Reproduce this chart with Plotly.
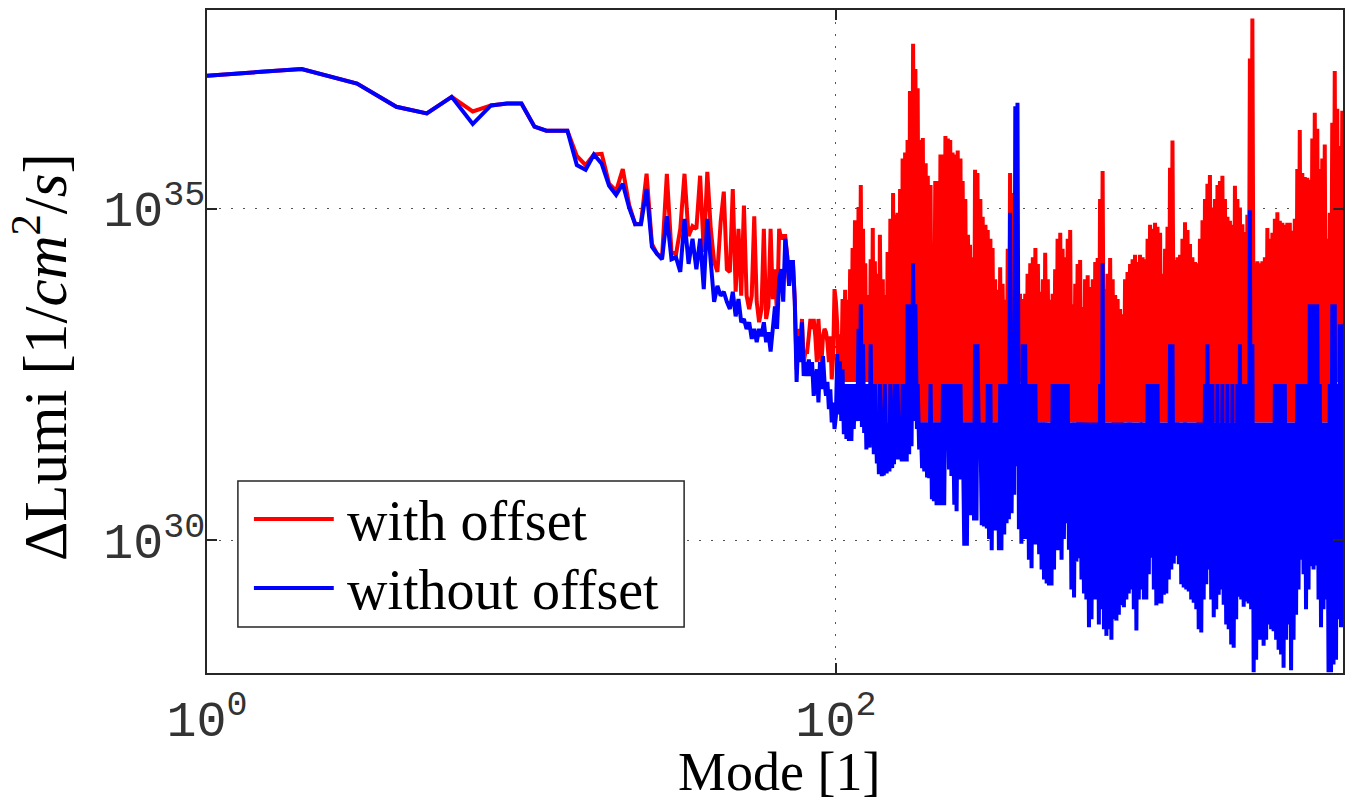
import plotly.graph_objects as go

# ---------------- data (values stored as log10 of ΔLumi [1/cm^2/s]) ----------------
modes_low = list(range(1, 101))

red_low_exp = [
    37.01, 37.11, 36.89, 36.54, 36.44, 36.69, 36.47, 36.56, 36.59, 36.59,
    36.24, 36.18, 36.18, 36.18, 35.80, 35.66, 35.82, 35.83, 35.38, 35.27,
    35.60, 35.06, 34.77, 34.79, 35.53, 34.47, 34.32, 34.27, 35.53, 34.35,
    34.31, 34.70, 35.53, 34.59, 34.74, 34.70, 35.50, 34.35, 35.56, 34.70,
    34.20, 34.05, 34.80, 35.26, 34.09, 34.05, 35.30, 33.75, 34.70, 33.69,
    35.05, 33.69, 33.49, 33.69, 34.89, 33.60, 33.29, 33.49, 34.70, 33.34,
    33.53, 34.70, 33.64, 34.09, 33.38, 34.70, 34.55, 34.59, 34.59, 34.29,
    33.84, 34.20, 34.20, 33.64, 32.58, 33.19, 32.89, 33.34, 32.69, 32.84,
    32.84, 33.08, 33.34, 33.19, 33.34, 33.08, 32.69, 33.34, 32.89, 32.69,
    33.08, 33.19, 33.14, 32.99, 32.69, 33.08, 32.43, 32.78, 33.79, 33.60,
]

blue_low_exp = [
    37.01, 37.11, 36.89, 36.54, 36.44, 36.69, 36.28, 36.56, 36.59, 36.59,
    36.24, 36.18, 36.18, 36.18, 35.66, 35.59, 35.82, 35.68, 35.35, 35.21,
    35.38, 35.02, 34.77, 34.77, 35.30, 34.43, 34.32, 34.24, 34.89, 34.24,
    34.27, 34.05, 34.85, 34.17, 34.55, 34.09, 34.55, 33.79, 34.85, 34.20,
    33.60, 33.84, 33.69, 33.75, 33.60, 33.49, 33.75, 33.38, 33.64, 33.29,
    33.34, 33.19, 33.29, 33.04, 33.19, 32.99, 33.19, 33.08, 33.29, 32.99,
    33.14, 32.85, 33.19, 33.53, 33.19, 33.94, 34.09, 33.60, 34.55, 34.29,
    33.84, 34.20, 34.20, 33.60, 32.39, 33.08, 32.69, 33.29, 32.48, 32.69,
    32.48, 32.73, 32.48, 32.69, 32.18, 32.39, 32.58, 32.08, 32.69, 32.28,
    32.78, 32.39, 32.18, 32.39, 31.98, 32.28, 31.78, 32.08, 31.68, 31.87,
]

modes_dense = [
    101, 102, 103,
    104, 105, 106, 107, 108, 109, 110, 111, 112, 113, 114, 115, 117, 118, 119, 120,
    121, 122, 123, 124, 125, 126, 128, 129, 130, 131, 132, 133, 135, 136, 137, 138, 140, 141, 142, 143,
    145, 146, 148, 149, 151, 152, 153, 154, 156, 157, 159, 160, 162, 163, 165, 166, 168, 169, 171, 172,
    174, 176, 178, 179, 181, 182, 184, 186, 188, 189, 191, 193, 195, 196, 198, 200, 202, 203, 205, 207,
    209, 211, 213, 215, 217, 219, 221, 223, 225, 227, 229, 231, 233, 235, 238, 240, 242, 244, 247, 249,
    251, 253, 256, 258, 261, 263, 265, 267, 270, 272, 275, 277, 280, 282, 285, 288, 291, 293, 296, 299,
    302, 304, 307, 310, 313, 315, 318, 321, 324, 327, 330, 333, 336, 339, 343, 346, 349, 352, 355, 358,
    362, 365, 369, 372, 375, 378, 382, 385, 389, 393, 397, 400, 404, 407, 411, 415, 419, 423, 427, 431,
    435, 439, 443, 447, 451, 455, 459, 463, 468, 472, 476, 480, 485, 489, 494, 498, 503, 507, 512, 517,
    522, 526, 531, 536, 541, 546, 551, 556, 561, 566, 572, 577, 582, 587, 593, 598, 604, 609, 615, 620,
    626, 632, 638, 644, 650, 656, 662, 668, 674, 680, 686, 692, 699, 705, 712, 718, 725, 731, 738, 745,
    752, 759, 766, 773, 780, 787, 794, 801, 809, 816, 824, 831, 839, 846, 854, 862, 870, 878, 886, 894,
    903, 911, 919, 927, 936, 945, 954, 962, 971, 980, 989, 998, 1007, 1016, 1026, 1035, 1045, 1054, 1064, 1074,
    1084, 1094, 1104, 1114, 1124, 1134, 1145, 1155, 1166, 1176, 1187, 1198, 1209, 1220, 1232, 1243, 1254, 1265, 1277, 1289,
    1301, 1313, 1325, 1337, 1349, 1361, 1374, 1387, 1400, 1412, 1425, 1438, 1452, 1465, 1478, 1492, 1506, 1519, 1533, 1547,
    1562, 1576, 1591, 1605, 1620, 1635, 1650, 1665, 1680, 1695, 1711, 1727, 1743, 1759, 1775, 1791, 1808, 1824, 1841, 1858,
    1875, 1892, 1910, 1927, 1945, 1963, 1981, 1999, 2017, 2035, 2054, 2073, 2092, 2111, 2131, 2150, 2170, 2190, 2210, 2230,
    2251, 2271, 2292, 2313, 2335, 2356, 2378, 2400, 2422, 2444, 2466, 2489, 2512, 2535, 2558, 2581, 2605, 2629, 2653, 2677,
    2702, 2727, 2752, 2777, 2803, 2828, 2854, 2880, 2907, 2933, 2960, 2987, 3015, 3043, 3071, 3099, 3127, 3156, 3185, 3214,
    3244, 3274, 3304, 3334, 3365, 3396, 3427, 3458, 3490, 3522, 3554, 3587, 3620, 3653, 3687, 3721, 3755, 3789, 3824, 3859,
    3895, 3931, 3967, 4003, 4040, 4077,
]

red_dense_exp = [
    33.25, 32.39, 33.11,
    32.39, 33.64, 32.39, 33.78, 32.39, 33.63, 32.39, 34.09, 32.39, 34.41, 32.39, 34.83, 32.39, 35.03, 32.39, 35.36,
    32.39, 34.70, 32.39, 34.18, 32.39, 33.70, 32.39, 34.24, 32.39, 34.71, 31.78, 34.21, 31.78, 34.02, 31.78, 34.61, 31.78, 33.94, 31.78, 33.70,
    31.78, 34.35, 31.78, 34.85, 31.78, 35.24, 31.78, 34.91, 31.78, 34.94, 31.78, 35.30, 31.78, 35.76, 31.78, 35.85, 31.78, 36.04, 32.39, 36.78,
    32.39, 37.49, 32.39, 37.11, 32.39, 36.82, 31.78, 36.04, 31.78, 36.07, 31.78, 35.69, 31.78, 35.50, 31.78, 35.36, 31.78, 34.43, 31.78, 35.42,
    31.78, 35.42, 31.78, 35.82, 31.78, 35.82, 31.78, 36.10, 31.78, 36.06, 31.78, 36.04, 31.78, 35.85, 31.78, 35.82, 31.78, 35.88, 31.78, 35.76,
    31.78, 35.42, 31.78, 35.15, 31.78, 34.61, 31.78, 34.46, 31.78, 34.27, 31.78, 35.59, 31.78, 35.54, 31.78, 35.15, 31.78, 34.88, 31.78, 34.76,
    31.78, 34.68, 31.78, 34.55, 31.78, 34.41, 31.78, 33.94, 31.78, 33.78, 31.78, 34.12, 31.78, 33.87, 31.78, 33.63, 31.78, 34.40, 31.78, 35.54,
    32.39, 35.24, 32.39, 34.70, 32.39, 33.94, 32.39, 33.72, 32.39, 33.64, 32.39, 33.72, 32.39, 34.02, 31.78, 34.18, 31.78, 34.27, 31.78, 34.41,
    31.78, 34.17, 31.78, 33.75, 31.78, 33.94, 31.78, 34.34, 31.78, 33.94, 31.78, 33.63, 31.78, 33.72, 31.78, 34.09, 31.78, 34.55, 31.78, 34.64,
    31.78, 34.40, 31.78, 34.27, 31.78, 34.55, 31.78, 34.68, 31.78, 33.56, 31.78, 33.87, 31.78, 34.17, 31.16, 34.23, 31.16, 33.52, 31.16, 33.94,
    31.16, 34.00, 31.16, 33.82, 31.16, 33.94, 31.16, 34.20, 31.16, 34.26, 31.16, 35.15, 31.16, 35.57, 31.78, 33.79, 31.78, 34.02, 31.78, 34.26,
    31.78, 33.94, 31.16, 33.70, 31.16, 33.64, 31.16, 33.49, 31.16, 33.41, 31.78, 33.94, 31.78, 34.05, 31.78, 34.17, 31.78, 34.24, 31.78, 34.31,
    31.78, 34.20, 31.78, 34.31, 31.78, 34.27, 31.78, 34.24, 31.78, 34.55, 31.78, 34.76, 31.78, 34.70, 31.78, 34.79, 31.78, 34.73, 31.78, 34.64,
    31.78, 34.02, 31.78, 34.40, 31.78, 34.73, 31.78, 35.62, 32.39, 36.03, 32.39, 34.23, 31.78, 34.27, 31.78, 34.31, 31.78, 34.55, 31.78, 34.80,
    31.78, 34.68, 31.78, 34.47, 31.78, 34.27, 31.78, 34.20, 31.78, 34.18, 31.16, 34.55, 31.16, 34.83, 31.78, 35.15, 31.78, 35.38, 31.78, 35.51,
    31.78, 35.02, 31.78, 35.15, 31.78, 35.36, 31.78, 35.42, 31.78, 35.50, 31.78, 35.15, 31.78, 34.88, 31.78, 34.82, 31.78, 34.76, 31.78, 35.35,
    31.78, 35.15, 31.78, 35.02, 31.78, 34.77, 31.78, 34.65, 31.78, 34.91, 31.78, 37.27, 32.39, 37.87, 32.39, 34.18, 31.78, 34.21, 31.78, 34.18,
    31.78, 34.21, 31.78, 34.27, 31.78, 34.71, 31.78, 34.55, 31.78, 34.64, 31.78, 34.85, 31.78, 34.95, 31.78, 34.82, 31.78, 34.79, 31.78, 34.76,
    31.78, 34.79, 31.78, 34.79, 31.78, 34.67, 31.78, 34.85, 31.78, 35.60, 31.78, 36.19, 31.78, 35.54, 31.78, 35.48, 31.78, 35.47, 32.39, 35.44,
    32.39, 36.06, 32.39, 36.45, 32.39, 36.21, 32.39, 35.60, 31.78, 35.76, 31.78, 35.97, 31.78, 34.55, 31.78, 34.94, 32.39, 36.30, 32.39, 37.08,
    32.39, 36.51, 32.39, 35.95, 32.39, 36.48,
]

blue_dense_exp = [
    32.81, 31.90, 32.70,
    31.80, 32.58, 31.60, 32.36, 31.53, 32.36, 31.50, 32.36, 31.50, 32.36, 31.68, 32.36, 31.80, 33.19, 31.80, 33.56,
    31.71, 32.96, 31.62, 32.36, 31.37, 32.36, 31.40, 32.96, 31.57, 32.36, 31.30, 32.36, 31.16, 31.78, 31.00, 32.36, 30.97, 31.78, 30.98, 32.36,
    31.01, 31.78, 31.04, 32.36, 31.09, 31.78, 31.15, 32.36, 31.22, 32.36, 31.22, 31.78, 31.19, 32.36, 31.19, 32.36, 31.19, 33.56, 31.30, 33.56,
    31.42, 34.18, 31.80, 33.56, 31.68, 32.36, 31.37, 31.78, 31.09, 31.78, 31.04, 31.78, 30.95, 31.78, 30.94, 32.36, 30.62, 31.78, 30.59, 31.78,
    30.53, 31.78, 30.53, 31.78, 30.53, 32.36, 30.53, 32.36, 31.50, 32.36, 31.07, 32.36, 30.97, 32.36, 30.54, 32.36, 30.44, 32.36, 30.92, 32.36,
    30.98, 31.78, 29.92, 31.78, 29.92, 31.78, 30.38, 31.78, 30.38, 31.78, 30.30, 32.96, 30.30, 32.96, 31.45, 31.78, 30.23, 31.78, 30.21, 31.78,
    30.18, 32.36, 30.02, 32.36, 29.85, 31.78, 30.15, 31.78, 30.15, 31.78, 29.85, 32.36, 29.85, 32.36, 30.09, 32.36, 30.26, 32.36, 30.32, 34.94,
    30.41, 32.36, 30.69, 36.55, 31.12, 36.60, 30.17, 32.36, 29.95, 32.96, 30.02, 32.96, 30.02, 32.36, 29.71, 32.36, 29.58, 32.36, 29.94, 32.36,
    29.94, 31.78, 29.79, 31.78, 29.56, 31.78, 29.41, 31.78, 29.35, 31.78, 29.32, 31.78, 29.32, 32.36, 29.56, 32.36, 29.85, 32.36, 29.85, 32.36,
    29.71, 32.36, 30.02, 32.36, 30.26, 32.36, 29.86, 31.78, 29.26, 31.78, 29.14, 31.78, 29.68, 31.78, 29.73, 31.78, 29.41, 31.78, 29.20, 31.78,
    29.11, 31.78, 28.69, 31.78, 28.81, 31.78, 29.11, 31.78, 29.11, 31.78, 28.73, 32.36, 28.96, 34.18, 28.66, 31.78, 28.56, 31.78, 28.66, 31.78,
    28.50, 31.78, 28.81, 31.78, 28.79, 31.78, 28.88, 31.78, 29.02, 31.78, 28.99, 31.78, 29.11, 31.78, 29.20, 31.78, 29.26, 31.78, 28.96, 31.78,
    28.64, 31.78, 29.11, 31.78, 29.26, 31.78, 29.11, 31.78, 29.11, 32.36, 29.49, 32.36, 29.74, 32.36, 29.26, 32.36, 29.02, 32.36, 29.05, 31.78,
    29.05, 31.78, 29.18, 31.78, 29.20, 31.78, 29.41, 32.96, 29.56, 32.96, 29.65, 31.78, 29.77, 31.78, 29.64, 31.78, 29.34, 31.78, 29.29, 31.78,
    29.26, 31.78, 29.23, 31.78, 29.11, 31.78, 29.06, 31.78, 28.96, 31.78, 28.66, 31.78, 28.61, 31.78, 29.11, 32.36, 29.34, 32.96, 29.56, 32.36,
    29.11, 32.36, 28.84, 31.78, 28.96, 32.36, 29.18, 31.78, 29.26, 32.36, 29.03, 31.78, 28.73, 32.36, 28.66, 31.78, 28.43, 32.36, 28.38, 31.78,
    28.81, 32.36, 29.15, 32.96, 29.11, 32.36, 29.00, 32.36, 29.08, 32.36, 29.05, 34.98, 28.96, 32.96, 28.01, 31.78, 28.20, 31.78, 28.50, 31.78,
    28.50, 31.78, 28.41, 31.78, 28.50, 31.78, 28.73, 31.78, 28.66, 31.78, 28.63, 32.36, 28.50, 32.36, 28.35, 32.36, 28.28, 32.36, 28.08, 32.36,
    28.50, 31.78, 28.73, 31.78, 28.04, 31.78, 28.50, 31.78, 28.88, 32.36, 29.26, 32.36, 29.71, 32.36, 29.49, 32.36, 28.96, 32.36, 29.26, 33.56,
    29.61, 33.56, 29.56, 33.56, 29.62, 33.56, 29.11, 32.36, 28.69, 31.78, 28.96, 31.78, 29.11, 31.78, 28.01, 32.36, 28.01, 33.56, 28.13, 33.56,
    28.20, 32.36, 28.81, 33.26, 28.69, 33.26,
]

x_tickvals = [1, 100]
x_ticktext = ["10<sup>0</sup>", "10<sup>2</sup>"]
y_tickvals = [1e30, 1e35]
y_ticktext = ["10<sup>30</sup>", "10<sup>35</sup>"]

series_names = ["with offset", "without offset"]
series_colors = ["#ff0000", "#0000ff"]

# ---------------- build ----------------
modes = modes_low + modes_dense
red_vals = [10 ** e for e in red_low_exp + red_dense_exp]
blue_vals = [10 ** e for e in blue_low_exp + blue_dense_exp]

fig = go.Figure()
for name, color, vals in zip(series_names, series_colors, [red_vals, blue_vals]):
    fig.add_trace(go.Scatter(
        x=modes, y=vals, mode="lines", name=name,
        line=dict(color=color, width=4, simplify=False),
        showlegend=False, hoverinfo="skip",
    ))

axis_common = dict(
    type="log", showline=True, linecolor="#262626", linewidth=1.5,
    mirror="ticks", ticks="inside", ticklen=10, tickwidth=1.5, tickcolor="#262626",
    showgrid=True, gridcolor="#555555", gridwidth=1, griddash="2px,10px",
    zeroline=False,
    tickfont=dict(family="Liberation Mono", size=50, color="#333333"),
)

fig.update_xaxes(range=[0, 3.6127], tickvals=x_tickvals, ticktext=x_ticktext,
                 ticklabelstandoff=1, **axis_common)
fig.update_yaxes(range=[28, 38], tickvals=y_tickvals, ticktext=y_ticktext,
                 ticklabelstandoff=-10, **axis_common)

serif = "Liberation Serif"
annotations = [
    dict(text="Mode [1]", x=0.5035, y=-0.1493, xref="paper", yref="paper",
         xanchor="center", yanchor="middle", showarrow=False,
         font=dict(family=serif, size=54, color="black")),
    dict(text="ΔLumi [1/<i>cm</i><sup>2</sup>/<i>s</i>]", x=-0.147, y=0.4766,
         xref="paper", yref="paper", xanchor="center", yanchor="middle",
         textangle=-90, showarrow=False,
         font=dict(family=serif, size=61, color="black")),
]

# manual legend (MATLAB style box with long line samples)
leg_x0, leg_x1, leg_y0, leg_y1 = 0.0272, 0.4200, 0.0694, 0.2896
shapes = [dict(type="rect", xref="paper", yref="paper", x0=leg_x0, x1=leg_x1,
               y0=leg_y0, y1=leg_y1, line=dict(color="#262626", width=1.5),
               fillcolor="white", layer="above")]
for color, ly in zip(series_colors, [0.2323, 0.1282]):
    shapes.append(dict(type="line", xref="paper", yref="paper", x0=0.0413, x1=0.1116,
                       y0=ly, y1=ly, line=dict(color=color, width=4), layer="above"))
for name, ty in zip(series_names, [0.2293, 0.1252]):
    annotations.append(dict(text=name, x=0.1213, y=ty, xref="paper", yref="paper",
                            xanchor="left", yanchor="middle", showarrow=False,
                            font=dict(family=serif, size=56, color="black")))

fig.update_layout(
    width=1345, height=804,
    margin=dict(l=207, r=0, t=10, b=131),
    plot_bgcolor="white", paper_bgcolor="white",
    showlegend=False, shapes=shapes, annotations=annotations,
)

fig.write_html("out.html", config={"displayModeBar": False},
               post_script="document.body.style.margin='0px';")
